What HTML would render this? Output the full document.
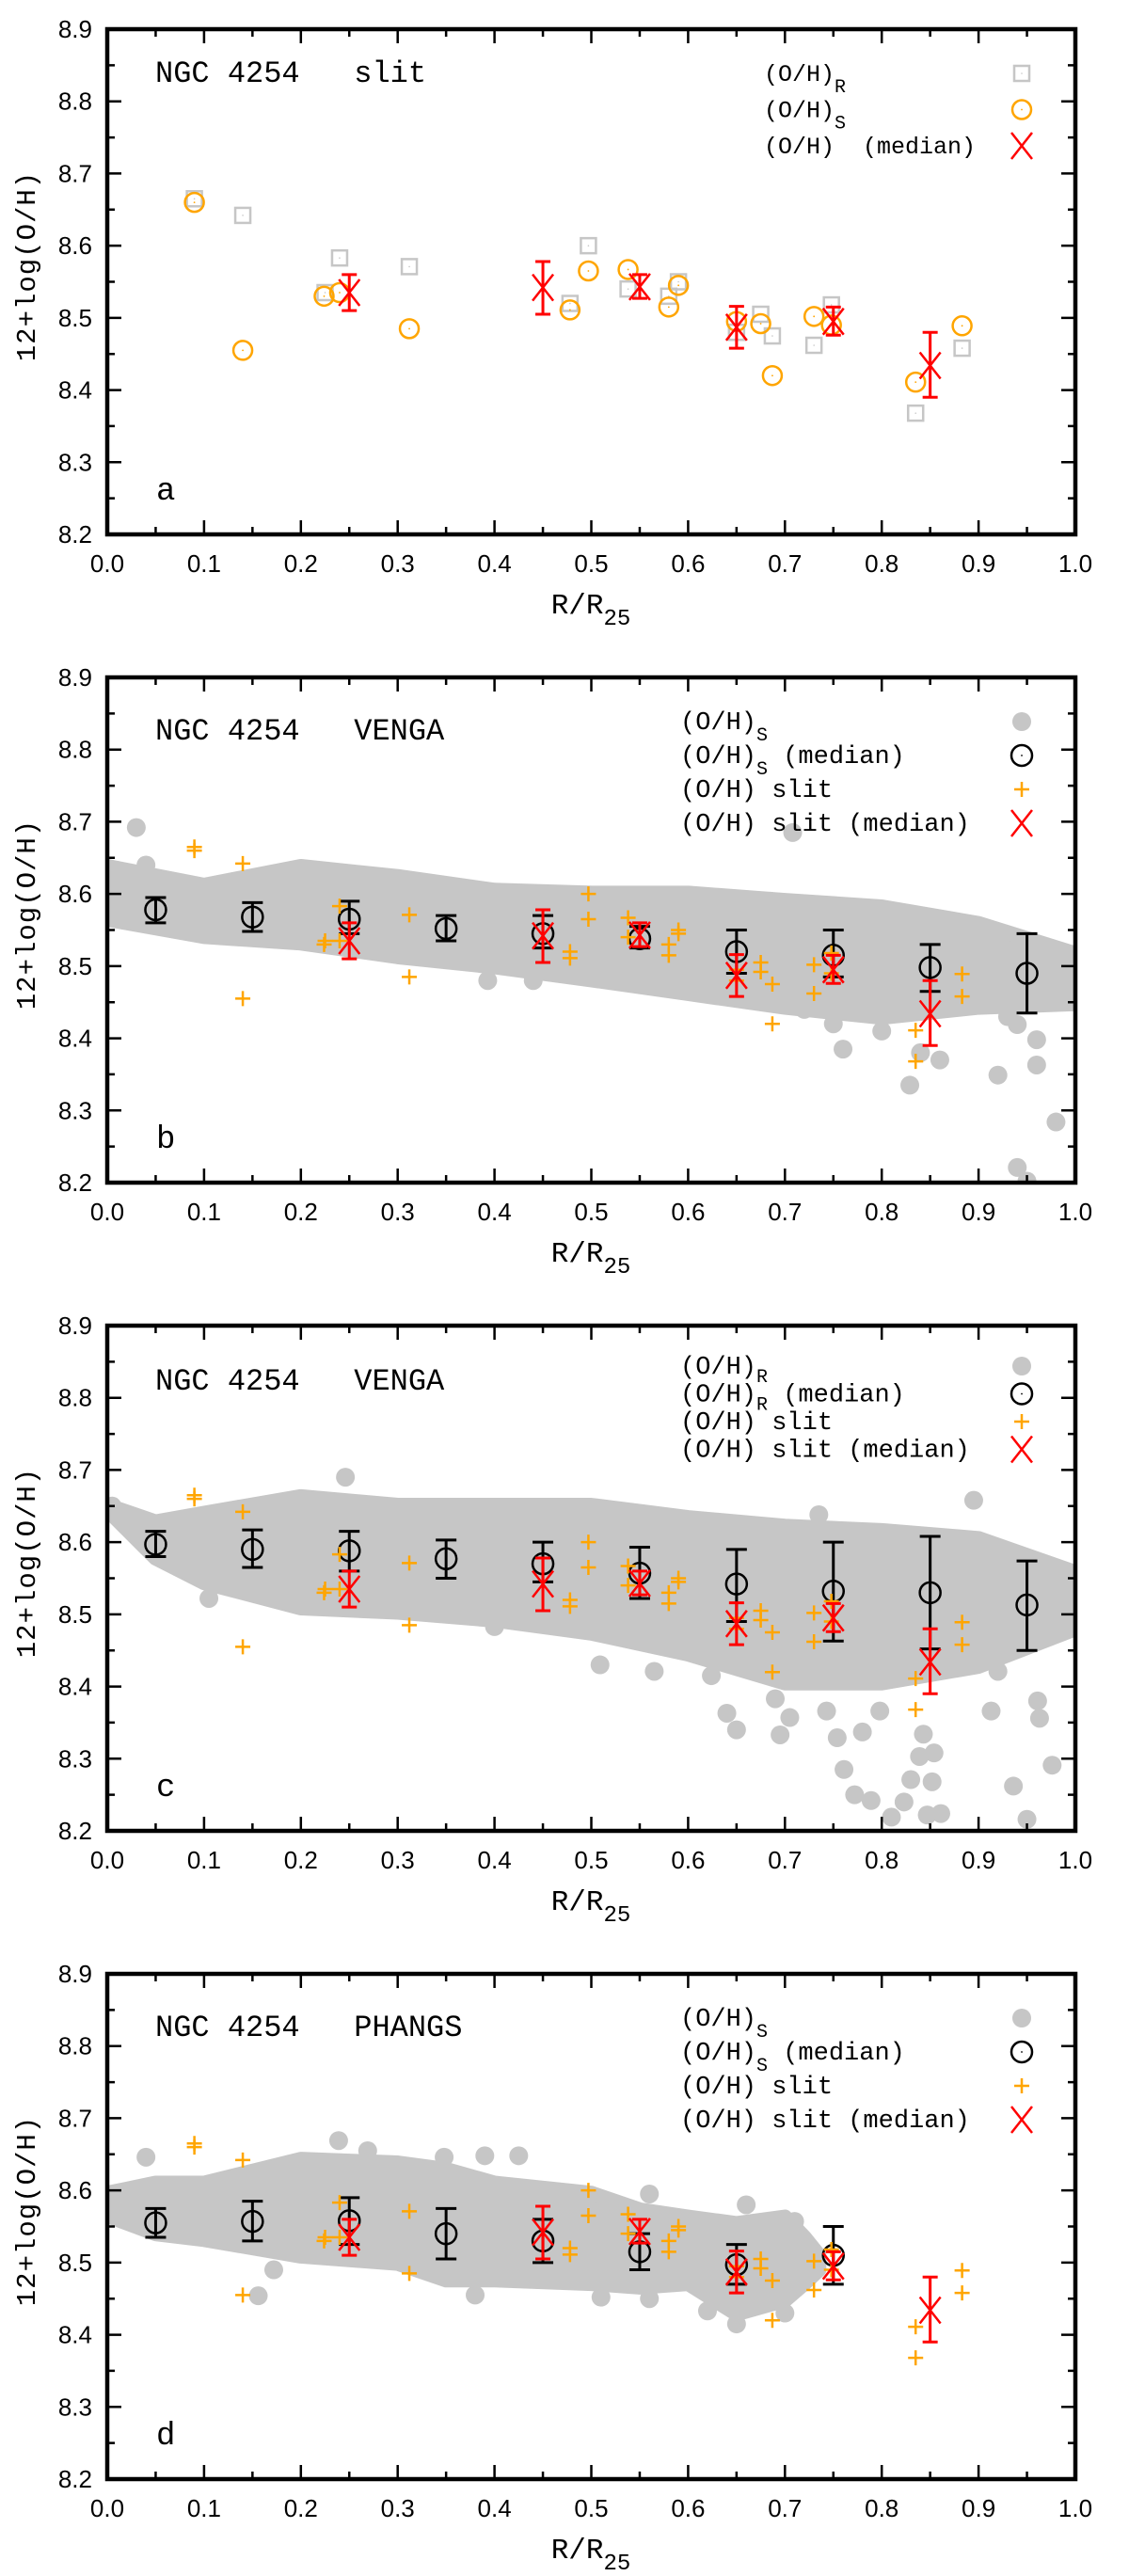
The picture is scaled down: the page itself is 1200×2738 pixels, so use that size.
<!DOCTYPE html>
<html><head><meta charset="utf-8">
<style>
html,body{margin:0;padding:0;background:#fff;}
svg{display:block;}
.tk{font-family:"Liberation Sans",sans-serif;font-size:26px;fill:#000;}
.mono{font-family:"Liberation Mono",monospace;fill:#000;}
</style></head>
<body>
<svg id="fig" width="1200" height="2738" viewBox="0 0 1200 2738" xmlns="http://www.w3.org/2000/svg"></svg>
<script>
// ---------- data ----------
const slitRx=[0.09,0.14,0.24,0.225,0.312,0.497,0.478,0.538,0.58,0.59,0.65,0.675,0.687,0.73,0.748,0.835,0.883];
const slitRy=[8.665,8.642,8.583,8.535,8.571,8.60,8.52,8.54,8.53,8.55,8.48,8.505,8.475,8.462,8.518,8.368,8.458];
const slitSx=[0.09,0.14,0.224,0.24,0.312,0.478,0.497,0.538,0.58,0.59,0.65,0.675,0.687,0.73,0.748,0.835,0.883];
const slitSy=[8.66,8.455,8.53,8.535,8.485,8.511,8.565,8.567,8.515,8.545,8.495,8.492,8.42,8.502,8.49,8.411,8.489];
const medX=[0.25,0.45,0.55,0.65,0.75,0.85];
const medY=[8.535,8.542,8.543,8.487,8.495,8.434];
const medLo=[8.51,8.505,8.527,8.458,8.476,8.39];
const medHi=[8.56,8.578,8.56,8.516,8.515,8.48];

const binX=[0.05,0.15,0.25,0.35,0.45,0.55,0.65,0.75,0.85,0.95];
const bMedY=[8.578,8.568,8.565,8.552,8.545,8.538,8.52,8.515,8.498,8.49];
const bMedLo=[8.56,8.548,8.545,8.535,8.525,8.525,8.49,8.485,8.465,8.435];
const bMedHi=[8.595,8.588,8.59,8.57,8.57,8.555,8.55,8.55,8.53,8.545];
const cMedY=[8.597,8.59,8.588,8.577,8.57,8.557,8.542,8.532,8.53,8.513];
const cMedLo=[8.58,8.565,8.56,8.55,8.545,8.522,8.49,8.463,8.452,8.45];
const cMedHi=[8.615,8.617,8.615,8.603,8.60,8.593,8.59,8.60,8.608,8.574];
const dMedX=[0.05,0.15,0.25,0.35,0.45,0.55,0.65,0.75];
const dMedY=[8.555,8.557,8.558,8.54,8.53,8.515,8.497,8.51];
const dMedLo=[8.535,8.53,8.525,8.505,8.50,8.49,8.47,8.47];
const dMedHi=[8.575,8.585,8.59,8.575,8.56,8.54,8.525,8.55];

const bBandX=[0.0,0.1,0.2,0.3,0.4,0.5,0.6,0.7,0.8,0.9,1.0];
const bBandTop=[8.638,8.612,8.638,8.624,8.605,8.601,8.601,8.591,8.582,8.559,8.517];
const bBandBot=[8.565,8.541,8.532,8.513,8.499,8.481,8.462,8.443,8.429,8.443,8.448];
const bOutX=[0.03,0.708,0.393,0.44,0.72,0.75,0.76,0.80,0.829,0.86,0.84,0.92,0.93,0.94,0.96,0.96,0.98,0.94,0.95,0.685,0.04];
const bOutY=[8.692,8.685,8.48,8.48,8.44,8.42,8.385,8.41,8.335,8.37,8.38,8.349,8.43,8.419,8.398,8.363,8.284,8.221,8.202,8.59,8.64];

const cBandX=[0.0,0.05,0.1,0.2,0.3,0.4,0.5,0.6,0.7,0.8,0.9,1.0];
const cBandTop=[8.651,8.628,8.64,8.663,8.651,8.651,8.651,8.634,8.622,8.616,8.605,8.558];
const cBandBot=[8.645,8.578,8.544,8.509,8.503,8.492,8.474,8.445,8.405,8.405,8.428,8.48];
const cOutX=[0.64,0.65,0.695,0.69,0.705,0.743,0.754,0.761,0.772,0.789,0.78,0.798,0.81,0.823,0.83,0.839,0.854,0.843,0.852,0.847,0.861,0.936,0.95,0.976,0.961,0.963,0.92,0.895,0.246,0.735,0.509,0.565,0.105,0.287,0.40,0.624,0.913,0.005];
const cOutY=[8.363,8.34,8.333,8.383,8.357,8.366,8.329,8.285,8.25,8.242,8.337,8.366,8.219,8.24,8.271,8.303,8.308,8.334,8.268,8.222,8.224,8.262,8.216,8.291,8.38,8.356,8.421,8.658,8.69,8.638,8.43,8.421,8.522,8.508,8.483,8.415,8.366,8.65];

const dBandX=[0.0,0.05,0.1,0.2,0.3,0.35,0.4,0.5,0.55,0.6,0.65,0.7,0.72,0.735];
const dBandTop=[8.596,8.61,8.61,8.643,8.638,8.629,8.61,8.596,8.573,8.563,8.554,8.563,8.535,8.51];
const dBandBot=[8.565,8.54,8.532,8.509,8.499,8.476,8.476,8.471,8.466,8.471,8.429,8.448,8.471,8.49];
const dOutX=[0.04,0.239,0.269,0.348,0.39,0.425,0.156,0.172,0.38,0.51,0.56,0.62,0.65,0.70,0.71,0.66,0.56];
const dOutY=[8.646,8.669,8.655,8.646,8.648,8.648,8.454,8.49,8.455,8.452,8.45,8.433,8.415,8.43,8.557,8.58,8.595];

const yTicks=["8.2","8.3","8.4","8.5","8.6","8.7","8.8","8.9"];
const xTicks=["0.0","0.1","0.2","0.3","0.4","0.5","0.6","0.7","0.8","0.9","1.0"];

// ---------- layout ----------
const NS="http://www.w3.org/2000/svg";
const svg=document.getElementById('fig');
const X0=114,X1=1143,H=537;
const TOPS=[31,720,1409,2098];
const GRAY="#c6c6c6",ORANGE="#ffa500",RED="#ff0000";
function mk(tag,attrs,parent){const e=document.createElementNS(NS,tag);for(const k in attrs)e.setAttribute(k,attrs[k]);(parent||svg).appendChild(e);return e;}
function sx(v){return X0+(v-0)/(1-0)*(X1-X0);}
function syF(top){return v=>top+H-(v-8.2)/(0.7)*H;}

function square(g,x,y){mk('rect',{x:x-8,y:y-8,width:16,height:16,fill:'none',stroke:GRAY,'stroke-width':2.5},g);mk('circle',{cx:x,cy:y,r:0.8,fill:GRAY},g);}
function ocircle(g,x,y,c,r){mk('circle',{cx:x,cy:y,r:r,fill:'none',stroke:c,'stroke-width':2.5},g);mk('circle',{cx:x,cy:y,r:0.9,fill:c},g);}
function cross(g,x,y){mk('path',{d:`M${x-11} ${y-14}L${x+11} ${y+14}M${x-11} ${y+14}L${x+11} ${y-14}`,stroke:RED,'stroke-width':2.5,fill:'none'},g);}
function plus(g,x,y){mk('path',{d:`M${x-8} ${y}H${x+8}M${x} ${y-8}V${y+8}`,stroke:ORANGE,'stroke-width':2.5,fill:'none'},g);}
function ebar(g,x,ylo,yhi,c,w){mk('path',{d:`M${x} ${ylo}V${yhi}M${x-w} ${ylo}H${x+w}M${x-w} ${yhi}H${x+w}`,stroke:c,'stroke-width':3,fill:'none'},g);}
function dot(g,x,y){mk('circle',{cx:x,cy:y,r:10,fill:GRAY},g);}

function axes(top,idx){
  const sy=syF(top);
  const g=mk('g',{});
  
  
  let d='';
  for(let i=0;i<=20;i++){const x=sx(i*0.05);const L=i%2?8:15;d+=`M${x} ${top+H}v${-L}M${x} ${top}v${L}`;}
  for(let i=0;i<=14;i++){const y=sy(8.2+i*0.05);const L=i%2?8:15;d+=`M${X0} ${y}h${L}M${X1} ${y}h${-L}`;}
  mk('path',{d:d,stroke:'#000','stroke-width':2.5,fill:'none'},g);
  mk('rect',{x:X0,y:top,width:X1-X0,height:H,fill:'none',stroke:'#000','stroke-width':4.5},g);
  yTicks.forEach((t,i)=>{const e=mk('text',{x:98,y:sy(8.2+i*0.1)+9,'text-anchor':'end',class:'tk'},g);e.textContent=t;
    
    });
  xTicks.forEach((t,i)=>{const e=mk('text',{x:sx(i*0.1),y:top+H+40,'text-anchor':'middle',class:'tk'},g);e.textContent=t;
    
    });
  const xt=mk('text',{x:628,y:top+H+84,'text-anchor':'middle',class:'mono','font-size':31},g);
  xt.innerHTML='R/R<tspan font-size="24" dy="12">25</tspan>';
  
  
  const yt=mk('text',{x:0,y:0,'text-anchor':'middle',class:'mono','font-size':29,'letter-spacing':1,transform:`translate(37 ${top+252}) rotate(-90)`},g);
  yt.textContent='12+log(O/H)';
  
  
}
function label(top,txt,letter,tdy){
  const t=mk('text',{x:165,y:top+tdy,class:'mono','font-size':32});
  t.style.whiteSpace='pre';
  t.textContent=txt;
  
  
  const l=mk('text',{x:166,y:top+500,class:'mono','font-size':34});
  l.textContent=letter;
  
  
}
function legend(top,rows,tx,fs,y0,dy){
  const g=mk('g',{});
  
  
  rows.forEach((r,i)=>{
    const y=top+y0+i*dy;
    const t=mk('text',{x:tx,y:y+8,class:'mono','font-size':fs},g);
    t.style.whiteSpace='pre';
    t.innerHTML=r[0];
    
    
    r[1](g,1086,y);
  });
}
function slitPlus(g,sy){slitRx.forEach((x,i)=>plus(g,sx(x),sy(slitRy[i])));slitSx.forEach((x,i)=>plus(g,sx(x),sy(slitSy[i])));}
function slitMed(g,sy){medX.forEach((x,i)=>{ebar(g,sx(x),sy(medLo[i]),sy(medHi[i]),RED,8);cross(g,sx(x),sy(medY[i]));});}
function band(g,sy,bx,bt,bb,ox,oy){
  let pts=bx.map((x,i)=>sx(x)+','+sy(bt[i]));
  for(let i=bx.length-1;i>=0;i--)pts.push(sx(bx[i])+','+sy(bb[i]));
  const p=mk('polygon',{points:pts.join(' '),fill:GRAY,stroke:GRAY,'stroke-width':16,'stroke-linejoin':'round'},g);
  
  
  ox.forEach((x,i)=>dot(g,sx(x),sy(oy[i])));
}
function blackMed(g,sy,xs,ys,lo,hi){xs.forEach((x,i)=>{ebar(g,sx(x),sy(lo[i]),sy(hi[i]),'#000',11);ocircle(g,sx(x),sy(ys[i]),'#000',11);});}

// panel a
(function(){const top=TOPS[0],sy=syF(top);
  const clip=mk('clipPath',{id:'c0'});mk('rect',{x:X0,y:top,width:X1-X0,height:H},clip);
  const g=mk('g',{'clip-path':'url(#c0)'});
  
  
  slitRx.forEach((x,i)=>square(g,sx(x),sy(slitRy[i])));
  slitSx.forEach((x,i)=>ocircle(g,sx(x),sy(slitSy[i]),ORANGE,10));
  slitMed(g,sy);
  axes(top,'a');label(top,'NGC 4254   slit','a',56);
  legend(top,[['(O/H)<tspan font-size="20" dy="12">R</tspan>',(g,x,y)=>square(g,x,y)],
    ['(O/H)<tspan font-size="20" dy="12">S</tspan>',(g,x,y)=>ocircle(g,x,y,ORANGE,10)],
    ['(O/H)  (median)',(g,x,y)=>cross(g,x,y)]],812,25,47,38.5);
})();
// panels b,c,d
[[1,'VENGA','b',bBandX,bBandTop,bBandBot,bOutX,bOutY,binX,bMedY,bMedLo,bMedHi,'S',47,36,12],
 [2,'VENGA','c',cBandX,cBandTop,cBandBot,cOutX,cOutY,binX,cMedY,cMedLo,cMedHi,'R',43,29.5,9],
 [3,'PHANGS','d',dBandX,dBandTop,dBandBot,dOutX,dOutY,dMedX,dMedY,dMedLo,dMedHi,'S',47,36,12]].forEach(P=>{
  const top=TOPS[P[0]],sy=syF(top);
  const clip=mk('clipPath',{id:'c'+P[0]});mk('rect',{x:X0,y:top,width:X1-X0,height:H},clip);
  const g=mk('g',{'clip-path':'url(#c'+P[0]+')'});
  
  
  band(g,sy,P[3],P[4],P[5],P[6],P[7]);
  blackMed(g,sy,P[8],P[9],P[10],P[11]);
  slitPlus(g,sy);
  slitMed(g,sy);
  axes(top,P[2]);label(top,'NGC 4254   '+P[1],P[2],P[0]==2?68:66);
  const sd=P[15];
  const s='<tspan font-size="20" dy="'+sd+'">'+P[12]+'</tspan>';
  legend(top,[['(O/H)'+s,(g,x,y)=>dot(g,x,y)],
    ['(O/H)'+s+'<tspan dy="-'+sd+'"> (median)</tspan>',(g,x,y)=>ocircle(g,x,y,'#000',11)],
    ['(O/H) slit',(g,x,y)=>plus(g,x,y)],
    ['(O/H) slit (median)',(g,x,y)=>cross(g,x,y)]],723,27,P[13],P[14]);
});
</script>
</body></html>
